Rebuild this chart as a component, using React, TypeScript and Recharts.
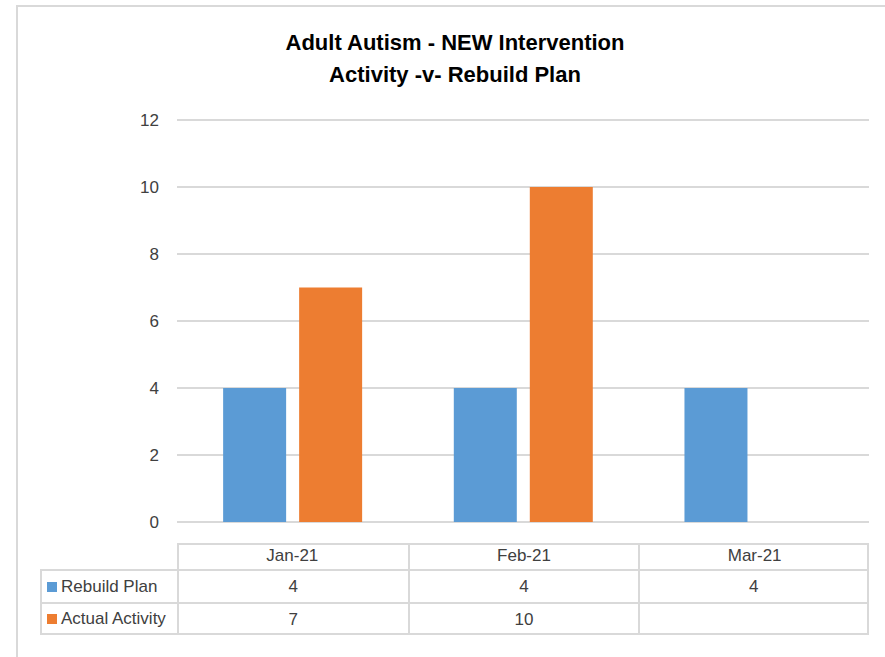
import { BarChart, Bar, YAxis, XAxis, CartesianGrid } from "recharts"

const months = ["Jan-21", "Feb-21", "Mar-21"]
const rebuildPlan = [4, 4, 4]
const actualActivity: (number | null)[] = [7, 10, null]
const yTicks = [0, 2, 4, 6, 8, 10, 12]

const BLUE = "#5b9bd5"
const ORANGE = "#ed7d31"
const GRID = "#d9d9d9"
const FONT = "'Liberation Sans Narrow', 'Liberation Sans', Arial, sans-serif"

const chartData = months.map((m, i) => ({
  month: m,
  rebuild: rebuildPlan[i],
  actual: actualActivity[i],
}))

const rows = [
  { name: "Rebuild Plan", color: BLUE, values: rebuildPlan },
  { name: "Actual Activity", color: ORANGE, values: actualActivity },
]

// plot area in page pixels
const PLOT_LEFT = 177
const PLOT_RIGHT = 869
const PLOT_TOP = 120
const PLOT_BOTTOM = 522
const W = 885
const H = 657

export default function App() {
  const colW = (PLOT_RIGHT - PLOT_LEFT) / months.length
  const headerTop = 543
  const headerH = 26
  const rowH = 33
  const labelLeft = 40

  return (
    <div
      style={{
        position: "absolute",
        left: 0,
        top: 0,
        width: W,
        height: H,
        background: "#fff",
        fontFamily: FONT,
        color: "#404040",
      }}
    >
      {/* frame */}
      <div
        style={{
          position: "absolute",
          left: 16,
          top: 5,
          right: 0,
          bottom: 0,
          borderTop: `2px solid ${GRID}`,
          borderLeft: `2px solid ${GRID}`,
        }}
      />
      <div
        style={{
          position: "absolute",
          left: 0,
          width: 910,
          top: 27,
          textAlign: "center",
          fontWeight: "bold",
          fontSize: 22,
          lineHeight: "32px",
          color: "#000",
        }}
      >
        <div>Adult Autism - NEW Intervention</div>
        <div>Activity -v- Rebuild Plan</div>
      </div>

      <div style={{ position: "absolute", left: 0, top: 0 }}>
        <BarChart
          width={W}
          height={H}
          data={chartData}
          margin={{ top: PLOT_TOP, right: W - PLOT_RIGHT, bottom: H - PLOT_BOTTOM, left: PLOT_LEFT - 60 }}
          barGap={13}
          barCategoryGap="20%"
        >
          <CartesianGrid vertical={false} stroke={GRID} strokeWidth={2} />
          <XAxis dataKey="month" hide />
          <YAxis
            width={60}
            domain={[0, 12]}
            ticks={yTicks}
            axisLine={false}
            tickLine={false}
            tickMargin={12}
            tick={{ fill: "#404040", fontSize: 17, fontFamily: FONT }}
          />
          <Bar dataKey="rebuild" fill={BLUE} isAnimationActive={false} />
          <Bar dataKey="actual" fill={ORANGE} isAnimationActive={false} />
        </BarChart>
      </div>

      {/* data table */}
      <div
        style={{
          position: "absolute",
          left: PLOT_LEFT,
          top: headerTop,
          width: PLOT_RIGHT - PLOT_LEFT,
          height: headerH,
          border: `2px solid ${GRID}`,
          borderBottom: "none",
          boxSizing: "border-box",
        }}
      />
      {months.map((m, i) => (
        <div
          key={m}
          style={{
            position: "absolute",
            left: PLOT_LEFT + i * colW,
            top: headerTop,
            width: colW,
            height: headerH,
            lineHeight: `${headerH}px`,
            textAlign: "center",
            fontSize: 17,
            borderLeft: i > 0 ? `2px solid ${GRID}` : "none",
            boxSizing: "border-box",
          }}
        >
          {m}
        </div>
      ))}
      {rows.map((r, ri) => {
        const top = headerTop + headerH + ri * rowH
        return (
          <div key={r.name}>
            <div
              style={{
                position: "absolute",
                left: labelLeft,
                top,
                width: PLOT_LEFT - labelLeft,
                height: rowH,
                borderTop: `2px solid ${GRID}`,
                borderLeft: `2px solid ${GRID}`,
                borderBottom: ri === rows.length - 1 ? `2px solid ${GRID}` : "none",
                boxSizing: "border-box",
                display: "flex",
                alignItems: "center",
                fontSize: 17,
                whiteSpace: "nowrap",
              }}
            >
              <span style={{ display: "inline-block", width: 10, height: 10, background: r.color, margin: "0 4px 0 5px" }} />
              {r.name}
            </div>
            {r.values.map((v, i) => (
              <div
                key={i}
                style={{
                  position: "absolute",
                  left: PLOT_LEFT + i * colW,
                  top,
                  width: colW,
                  height: rowH,
                  lineHeight: `${rowH - 2}px`,
                  textAlign: "center",
                  fontSize: 17,
                  borderTop: `2px solid ${GRID}`,
                  borderLeft: `2px solid ${GRID}`,
                  borderRight: i === months.length - 1 ? `2px solid ${GRID}` : "none",
                  borderBottom: ri === rows.length - 1 ? `2px solid ${GRID}` : "none",
                  boxSizing: "border-box",
                }}
              >
                {v ?? ""}
              </div>
            ))}
          </div>
        )
      })}
    </div>
  )
}
